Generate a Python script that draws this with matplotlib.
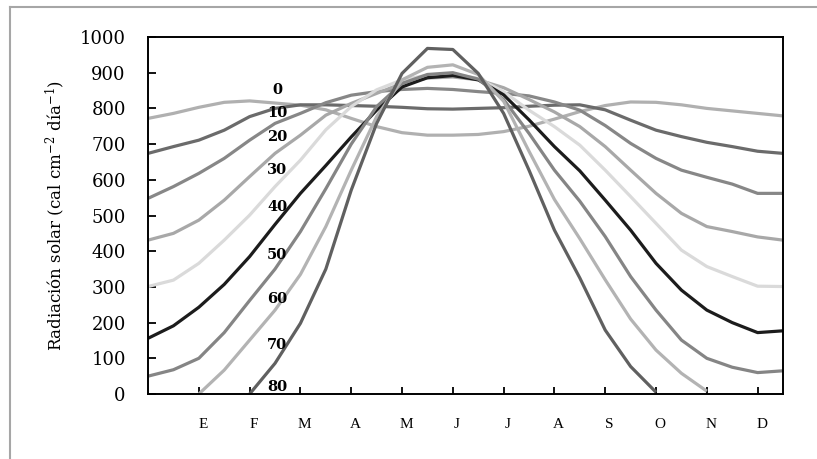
import numpy as np
import matplotlib
matplotlib.use("Agg")
import matplotlib.pyplot as plt
from matplotlib.lines import Line2D
from matplotlib.transforms import ScaledTranslation

plt.rcParams["mathtext.fontset"] = "dejavuserif"

# months on the x axis (1 = Jan ... 12 = Dec), curves sampled every half month
x = np.arange(0, 12.51, 0.5)
month_labels = ["E", "F", "M", "A", "M", "J", "J", "A", "S", "O", "N", "D"]
latitudes = ["0", "10", "20", "30", "40", "50", "60", "70", "80"]

nan = np.nan
rad_0 = [772, 786, 803, 817, 821, 815, 809, 796, 772, 749, 732, 725, 725,
         727, 735, 750, 770, 791, 808, 818, 817, 810, 800, 793, 786, 779]
rad_10 = [674, 693, 711, 739, 777, 800, 810, 810, 808, 806, 803, 799, 798,
          800, 802, 806, 809, 810, 796, 767, 739, 721, 705, 693, 680, 674]
rad_20 = [548, 581, 618, 660, 711, 758, 786, 816, 837, 847, 853, 856, 853,
          847, 842, 835, 818, 795, 752, 702, 660, 627, 607, 588, 562, 562]
rad_30 = [431, 450, 487, 543, 609, 674, 725, 781, 814, 842, 870, 885, 888,
          880, 858, 825, 790, 749, 693, 627, 562, 506, 469, 455, 440, 431]
rad_40 = [301, 319, 366, 431, 501, 581, 655, 740, 805, 852, 880, 893, 896,
          884, 847, 795, 749, 697, 627, 553, 478, 403, 357, 329, 302, 301]
rad_50 = [156, 191, 243, 307, 385, 475, 562, 640, 720, 795, 860, 886, 892,
          880, 838, 768, 693, 625, 543, 459, 366, 291, 235, 200, 172, 177]
rad_60 = [50, 68, 100, 172, 262, 350, 455, 575, 700, 805, 870, 895, 900,
          882, 825, 730, 627, 540, 441, 329, 235, 151, 100, 75, 60, 65]
rad_70 = [nan, nan, 0, 67, 151, 235, 335, 469, 627, 777, 880, 915, 922,
          895, 820, 680, 545, 435, 320, 210, 123, 58, 8, nan, nan, nan]
rad_80 = [nan, nan, nan, nan, 0, 86, 198, 350, 571, 758, 898, 968, 965,
          898, 786, 627, 459, 325, 179, 77, 5, nan, nan, nan, nan, nan]

series = [rad_0, rad_10, rad_20, rad_30, rad_40, rad_50, rad_60, rad_70, rad_80]
colors = ["#b0b0b0", "#6b6b6b", "#878787", "#a8a8a8", "#dadada",
          "#1c1c1c", "#858585", "#b3b3b3", "#606060"]

# where the latitude labels sit (data units)
label_x = 2.54
label_y = [851, 787, 720, 627, 524, 389, 266, 137, 20]

fig = plt.figure(figsize=(8.17, 4.59), dpi=100)
ax = fig.add_axes([0.1812, 0.1416, 0.7772, 0.7778])

for vals, col in zip(series, colors):
    ax.plot(x, vals, color=col, lw=2.3, solid_capstyle="butt",
            solid_joinstyle="round")

for lab, ly in zip(latitudes, label_y):
    ax.text(label_x, ly, lab, ha="center", va="center", fontsize=10.5,
            fontweight="bold", family="DejaVu Serif", color="black")

ax.set_xlim(0, 12.5)
ax.set_ylim(0, 1000)
ax.set_yticks(np.arange(0, 1001, 100))
ax.set_xticks(np.arange(1, 13))
ax.set_xticklabels(month_labels, family="Liberation Serif", fontsize=11)
for t in ax.get_yticklabels():
    t.set_family("DejaVu Serif")
    t.set_fontsize(13)
ax.tick_params(axis="y", direction="in", length=6, width=1.3, pad=16)
ax.tick_params(axis="x", direction="in", length=5, width=1.3, pad=17)
offset = ScaledTranslation(4 / 100, 0, fig.dpi_scale_trans)
for t in ax.get_xticklabels():
    t.set_transform(t.get_transform() + offset)

for sp in ax.spines.values():
    sp.set_linewidth(1.4)
    sp.set_color("black")

ax.set_ylabel("Radiación solar (cal cm$^{-2}$ día$^{-1}$)", family="DejaVu Serif",
              fontsize=12, labelpad=9)

# page frame lines around the figure
fig.add_artist(Line2D([10 / 817, 1], [1 - 7 / 459, 1 - 7 / 459],
                      transform=fig.transFigure, color="#a6a6a6", lw=1.5))
fig.add_artist(Line2D([10 / 817, 10 / 817], [0, 1 - 7 / 459],
                      transform=fig.transFigure, color="#a6a6a6", lw=1.5))

fig.savefig("out.png", dpi=100)
